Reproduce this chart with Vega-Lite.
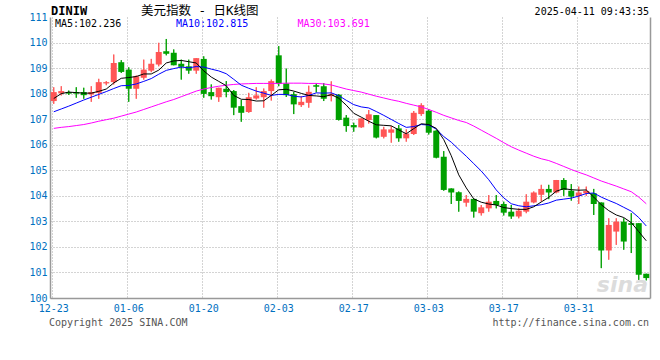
{
  "$schema": "https://vega.github.io/schema/vega-lite/v6.json",
  "width": 600,
  "height": 281,
  "autosize": {"type": "none"},
  "padding": {"left": 50, "top": 17, "right": 10, "bottom": 62},
  "background": "white",
  "config": {"view": {"stroke": null}, "font": "DejaVu Sans Mono"},
  "data": {"values": [
    {"d":"12-23","o":107.71,"h":108.25,"l":107.60,"c":108.06,"ma5":107.81,"ma10":107.29,"ma30":106.64},
    {"d":"12-24","o":108.01,"h":108.29,"l":107.93,"c":108.10,"ma5":108.00,"ma10":107.40,"ma30":106.68},
    {"d":"12-25","o":108.06,"h":108.12,"l":107.95,"c":108.00,"ma5":108.06,"ma10":107.51,"ma30":106.71},
    {"d":"12-26","o":108.06,"h":108.25,"l":107.84,"c":108.00,"ma5":108.04,"ma10":107.63,"ma30":106.75},
    {"d":"12-27","o":108.06,"h":108.23,"l":107.80,"c":107.94,"ma5":108.02,"ma10":107.75,"ma30":106.79},
    {"d":"12-30","o":107.97,"h":108.29,"l":107.68,"c":108.06,"ma5":108.02,"ma10":107.86,"ma30":106.85},
    {"d":"12-31","o":108.03,"h":108.58,"l":107.80,"c":108.45,"ma5":108.09,"ma10":107.97,"ma30":106.92},
    {"d":"01-01","o":108.40,"h":108.49,"l":108.33,"c":108.45,"ma5":108.18,"ma10":108.08,"ma30":106.98},
    {"d":"01-02","o":108.45,"h":109.53,"l":108.36,"c":109.20,"ma5":108.42,"ma10":108.20,"ma30":107.04},
    {"d":"01-03","o":109.23,"h":109.31,"l":108.81,"c":108.85,"ma5":108.60,"ma10":108.31,"ma30":107.12},
    {"d":"01-06","o":108.94,"h":109.03,"l":107.68,"c":108.19,"ma5":108.63,"ma10":108.32,"ma30":107.20},
    {"d":"01-07","o":108.19,"h":108.71,"l":107.80,"c":108.68,"ma5":108.67,"ma10":108.38,"ma30":107.28},
    {"d":"01-08","o":108.62,"h":109.33,"l":108.55,"c":108.94,"ma5":108.77,"ma10":108.48,"ma30":107.38},
    {"d":"01-09","o":108.90,"h":109.36,"l":108.84,"c":109.17,"ma5":108.77,"ma10":108.59,"ma30":107.48},
    {"d":"01-10","o":109.14,"h":109.99,"l":109.07,"c":109.63,"ma5":108.92,"ma10":108.76,"ma30":107.58},
    {"d":"01-13","o":109.66,"h":110.14,"l":109.50,"c":109.56,"ma5":109.20,"ma10":108.91,"ma30":107.68},
    {"d":"01-14","o":109.60,"h":109.73,"l":109.11,"c":109.11,"ma5":109.28,"ma10":108.98,"ma30":107.77},
    {"d":"01-15","o":109.17,"h":109.33,"l":108.55,"c":109.05,"ma5":109.30,"ma10":109.04,"ma30":107.88},
    {"d":"01-16","o":109.07,"h":109.33,"l":108.78,"c":108.90,"ma5":109.25,"ma10":109.01,"ma30":107.99},
    {"d":"01-17","o":108.90,"h":109.39,"l":108.78,"c":109.39,"ma5":109.20,"ma10":109.06,"ma30":108.10},
    {"d":"01-20","o":109.36,"h":109.46,"l":107.84,"c":107.99,"ma5":108.89,"ma10":109.04,"ma30":108.18},
    {"d":"01-21","o":108.06,"h":108.36,"l":107.77,"c":107.90,"ma5":108.65,"ma10":108.96,"ma30":108.24},
    {"d":"01-22","o":107.86,"h":108.23,"l":107.68,"c":108.23,"ma5":108.48,"ma10":108.89,"ma30":108.29},
    {"d":"01-23","o":108.19,"h":108.49,"l":107.86,"c":108.06,"ma5":108.31,"ma10":108.78,"ma30":108.33},
    {"d":"01-24","o":108.10,"h":108.14,"l":107.16,"c":107.45,"ma5":107.93,"ma10":108.56,"ma30":108.36},
    {"d":"01-27","o":107.51,"h":107.75,"l":106.90,"c":107.25,"ma5":107.78,"ma10":108.33,"ma30":108.38},
    {"d":"01-28","o":107.28,"h":108.03,"l":107.25,"c":107.86,"ma5":107.77,"ma10":108.21,"ma30":108.39},
    {"d":"01-29","o":107.81,"h":108.25,"l":107.77,"c":107.93,"ma5":107.71,"ma10":108.10,"ma30":108.40},
    {"d":"01-30","o":107.86,"h":108.20,"l":107.45,"c":108.10,"ma5":107.72,"ma10":108.02,"ma30":108.40},
    {"d":"01-31","o":108.10,"h":108.55,"l":107.73,"c":108.49,"ma5":107.93,"ma10":107.93,"ma30":108.40},
    {"d":"02-03","o":109.50,"h":109.86,"l":108.29,"c":108.38,"ma5":108.15,"ma10":107.97,"ma30":108.40},
    {"d":"02-04","o":108.40,"h":108.98,"l":107.87,"c":107.94,"ma5":108.17,"ma10":107.97,"ma30":108.41},
    {"d":"02-05","o":107.98,"h":108.07,"l":107.20,"c":107.58,"ma5":108.10,"ma10":107.90,"ma30":108.41},
    {"d":"02-06","o":107.55,"h":107.90,"l":107.48,"c":107.68,"ma5":108.01,"ma10":107.87,"ma30":108.41},
    {"d":"02-07","o":107.64,"h":108.31,"l":107.45,"c":108.07,"ma5":107.93,"ma10":107.93,"ma30":108.40},
    {"d":"02-10","o":108.33,"h":108.40,"l":108.05,"c":108.27,"ma5":107.91,"ma10":108.03,"ma30":108.40},
    {"d":"02-11","o":108.29,"h":108.41,"l":107.71,"c":107.80,"ma5":107.88,"ma10":108.02,"ma30":108.38},
    {"d":"02-12","o":107.90,"h":108.48,"l":107.70,"c":107.98,"ma5":107.96,"ma10":108.03,"ma30":108.34},
    {"d":"02-13","o":107.96,"h":107.98,"l":106.95,"c":106.97,"ma5":107.82,"ma10":107.92,"ma30":108.26},
    {"d":"02-14","o":107.06,"h":107.16,"l":106.51,"c":106.73,"ma5":107.55,"ma10":107.74,"ma30":108.18},
    {"d":"02-17","o":106.77,"h":106.86,"l":106.51,"c":106.68,"ma5":107.23,"ma10":107.57,"ma30":108.12},
    {"d":"02-18","o":106.68,"h":107.03,"l":106.66,"c":107.03,"ma5":107.08,"ma10":107.48,"ma30":108.06},
    {"d":"02-19","o":106.97,"h":107.36,"l":106.83,"c":107.19,"ma5":106.92,"ma10":107.44,"ma30":107.98},
    {"d":"02-20","o":107.16,"h":107.16,"l":106.25,"c":106.28,"ma5":106.78,"ma10":107.30,"ma30":107.90},
    {"d":"02-21","o":106.31,"h":106.70,"l":106.25,"c":106.60,"ma5":106.76,"ma10":107.15,"ma30":107.83},
    {"d":"02-24","o":106.47,"h":106.73,"l":106.08,"c":106.60,"ma5":106.74,"ma10":106.99,"ma30":107.76},
    {"d":"02-25","o":106.64,"h":106.77,"l":106.12,"c":106.25,"ma5":106.58,"ma10":106.83,"ma30":107.70},
    {"d":"02-26","o":106.25,"h":106.60,"l":106.12,"c":106.44,"ma5":106.43,"ma10":106.68,"ma30":107.62},
    {"d":"02-27","o":106.42,"h":107.32,"l":106.38,"c":107.25,"ma5":106.63,"ma10":106.71,"ma30":107.55},
    {"d":"02-28","o":107.20,"h":107.62,"l":107.13,"c":107.55,"ma5":106.82,"ma10":106.79,"ma30":107.48},
    {"d":"03-03","o":107.33,"h":107.39,"l":106.40,"c":106.47,"ma5":106.79,"ma10":106.77,"ma30":107.38},
    {"d":"03-04","o":106.55,"h":106.57,"l":105.47,"c":105.49,"ma5":106.64,"ma10":106.61,"ma30":107.27},
    {"d":"03-05","o":105.53,"h":105.75,"l":104.20,"c":104.23,"ma5":106.20,"ma10":106.32,"ma30":107.15},
    {"d":"03-06","o":104.29,"h":104.29,"l":103.68,"c":104.13,"ma5":105.57,"ma10":106.10,"ma30":107.05},
    {"d":"03-07","o":104.14,"h":104.17,"l":103.38,"c":103.80,"ma5":104.82,"ma10":105.82,"ma30":106.95},
    {"d":"03-10","o":103.73,"h":104.03,"l":103.58,"c":103.88,"ma5":104.31,"ma10":105.55,"ma30":106.87},
    {"d":"03-11","o":103.88,"h":103.88,"l":103.15,"c":103.38,"ma5":103.88,"ma10":105.26,"ma30":106.73},
    {"d":"03-12","o":103.32,"h":103.64,"l":103.23,"c":103.55,"ma5":103.75,"ma10":104.97,"ma30":106.57},
    {"d":"03-13","o":103.51,"h":104.03,"l":103.38,"c":103.77,"ma5":103.68,"ma10":104.63,"ma30":106.41},
    {"d":"03-14","o":103.80,"h":104.03,"l":103.51,"c":103.64,"ma5":103.64,"ma10":104.23,"ma30":106.25},
    {"d":"03-17","o":103.68,"h":103.77,"l":103.23,"c":103.34,"ma5":103.54,"ma10":103.92,"ma30":106.08},
    {"d":"03-18","o":103.38,"h":103.64,"l":103.10,"c":103.19,"ma5":103.50,"ma10":103.69,"ma30":105.92},
    {"d":"03-19","o":103.19,"h":103.51,"l":103.12,"c":103.42,"ma5":103.47,"ma10":103.61,"ma30":105.79},
    {"d":"03-20","o":103.38,"h":104.06,"l":103.32,"c":103.77,"ma5":103.47,"ma10":103.57,"ma30":105.67},
    {"d":"03-21","o":103.74,"h":104.17,"l":103.71,"c":104.13,"ma5":103.57,"ma10":103.61,"ma30":105.55},
    {"d":"03-24","o":104.04,"h":104.43,"l":103.78,"c":104.27,"ma5":103.76,"ma10":103.65,"ma30":105.45},
    {"d":"03-25","o":104.27,"h":104.43,"l":103.87,"c":104.13,"ma5":103.94,"ma10":103.72,"ma30":105.38},
    {"d":"03-26","o":104.13,"h":104.62,"l":104.10,"c":104.62,"ma5":104.18,"ma10":103.83,"ma30":105.27},
    {"d":"03-27","o":104.62,"h":104.69,"l":104.00,"c":104.23,"ma5":104.28,"ma10":103.87,"ma30":105.15},
    {"d":"03-28","o":104.20,"h":104.46,"l":103.81,"c":103.97,"ma5":104.24,"ma10":103.91,"ma30":105.03},
    {"d":"03-31","o":103.99,"h":104.36,"l":103.68,"c":104.13,"ma5":104.22,"ma10":103.99,"ma30":104.92},
    {"d":"04-01","o":104.10,"h":104.36,"l":104.00,"c":104.19,"ma5":104.23,"ma10":104.09,"ma30":104.82},
    {"d":"04-02","o":104.10,"h":104.27,"l":103.25,"c":103.68,"ma5":103.95,"ma10":104.11,"ma30":104.70},
    {"d":"04-03","o":103.74,"h":103.74,"l":101.17,"c":101.86,"ma5":103.65,"ma10":103.95,"ma30":104.58},
    {"d":"04-04","o":101.86,"h":103.12,"l":101.50,"c":102.86,"ma5":103.42,"ma10":103.82,"ma30":104.48},
    {"d":"04-07","o":102.60,"h":103.12,"l":102.08,"c":102.99,"ma5":103.25,"ma10":103.70,"ma30":104.38},
    {"d":"04-08","o":102.99,"h":103.12,"l":101.89,"c":102.21,"ma5":103.15,"ma10":103.55,"ma30":104.27},
    {"d":"04-09","o":102.93,"h":103.32,"l":101.76,"c":102.86,"ma5":102.95,"ma10":103.40,"ma30":104.16},
    {"d":"04-10","o":102.93,"h":102.93,"l":100.71,"c":100.91,"ma5":102.60,"ma10":103.15,"ma30":103.95},
    {"d":"04-11","o":100.95,"h":100.95,"l":100.69,"c":100.78,"ma5":102.24,"ma10":102.82,"ma30":103.69}
  ]},
  "resolve": {"axis": {"y": "independent"}},
  "layer": [
    {
      "mark": {"type": "rule", "strokeWidth": 1},
      "encoding": {
        "x": {"field": "d", "type": "ordinal", "sort": null,
          "scale": {"type": "band", "paddingInner": 0, "paddingOuter": 0},
          "axis": {"values": ["12-23","01-06","01-20","02-03","02-17","03-03","03-17","03-31"],
            "title": null, "labelAngle": 0, "ticks": false, "bandPosition": 0.35,
            "domainColor": "#999999", "domainWidth": 1.5,
            "labelColor": "#0070c0", "labelFont": "DejaVu Sans Mono", "labelFontSize": 10, "labelPadding": 5,
            "grid": true, "gridColor": "#a8a8a8", "gridDash": [1, 2], "gridWidth": 1}},
        "y": {"field": "l", "type": "quantitative",
          "scale": {"domain": [100, 111], "nice": false, "zero": false},
          "axis": {"orient": "left", "values": [100,101,102,103,104,105,106,107,108,109,110,111],
            "title": null, "ticks": false, "domainColor": "#999999", "domainWidth": 1.5,
            "labelColor": "#0070c0", "labelFont": "DejaVu Sans Mono", "labelFontSize": 10, "labelPadding": 3,
            "grid": true, "gridColor": "#a8a8a8", "gridDash": [1, 2], "gridWidth": 1,
            "gridOpacity": {"condition": {"test": "datum.value >= 111", "value": 0}, "value": 1}}},
        "y2": {"field": "h"},
        "color": {"condition": {"test": "datum.c >= datum.o", "value": "#ff5555"}, "value": "#00a000"}
      }
    },
    {
      "data": {"values": [{"t": "sina"}]},
      "mark": {"type": "text", "align": "right", "baseline": "bottom", "fontSize": 22, "fontWeight": "bold", "fontStyle": "italic", "font": "DejaVu Sans", "color": "#dcdcdc", "dx": -2, "dy": -1},
      "encoding": {"x": {"datum": "04-11", "bandPosition": 1}, "y": {"datum": 100, "axis": null}, "text": {"field": "t"}}
    },
    {
      "mark": {"type": "rule", "strokeWidth": 1},
      "encoding": {
        "x": {"field": "d", "type": "ordinal", "sort": null},
        "y": {"field": "l", "type": "quantitative", "axis": null},
        "y2": {"field": "h"},
        "color": {"condition": {"test": "datum.c >= datum.o", "value": "#ff5555"}, "value": "#00a000"}
      }
    },
    {
      "mark": {"type": "bar", "width": {"band": 0.8}},
      "encoding": {
        "x": {"field": "d", "type": "ordinal", "sort": null},
        "y": {"field": "o", "type": "quantitative", "axis": null},
        "y2": {"field": "c"},
        "color": {"condition": {"test": "datum.c >= datum.o", "value": "#ff5555"}, "value": "#00a000"}
      }
    },
    {
      "mark": {"type": "line", "color": "#ff00ff", "strokeWidth": 1},
      "encoding": {
        "x": {"field": "d", "type": "ordinal", "sort": null},
        "y": {"field": "ma30", "type": "quantitative",
          "axis": {"orient": "right", "labels": false, "ticks": false, "grid": false, "title": null, "domainColor": "#999999", "domainWidth": 1.5}}
      }
    },
    {
      "mark": {"type": "line", "color": "#0000ff", "strokeWidth": 1},
      "encoding": {
        "x": {"field": "d", "type": "ordinal", "sort": null},
        "y": {"field": "ma10", "type": "quantitative", "axis": null}
      }
    },
    {
      "mark": {"type": "line", "color": "#000000", "strokeWidth": 1},
      "encoding": {
        "x": {"field": "d", "type": "ordinal", "sort": null},
        "y": {"field": "ma5", "type": "quantitative", "axis": null}
      }
    },
    {
      "data": {"values": [{"t": "DINIW"}]},
      "mark": {"type": "text", "align": "left", "baseline": "alphabetic", "fontSize": 12, "fontWeight": "bold", "font": "DejaVu Sans Mono", "color": "#000000", "dx": 1, "dy": -2},
      "encoding": {"x": {"datum": "12-23", "bandPosition": 0}, "y": {"datum": 111, "axis": null}, "text": {"field": "t"}}
    },
    {
      "data": {"values": [{"t": "美元指数 - 日K线图"}]},
      "mark": {"type": "text", "align": "left", "baseline": "alphabetic", "fontSize": 12.5, "font": "DejaVu Sans Mono, Noto Sans CJK SC", "color": "#000000", "dx": 1, "dy": -2},
      "encoding": {"x": {"datum": "01-08", "bandPosition": 0}, "y": {"datum": 111, "axis": null}, "text": {"field": "t"}}
    },
    {
      "data": {"values": [{"t": "2025-04-11 09:43:35"}]},
      "mark": {"type": "text", "align": "right", "baseline": "alphabetic", "fontSize": 10, "font": "DejaVu Sans Mono", "color": "#000000", "dx": -1, "dy": -2},
      "encoding": {"x": {"datum": "04-11", "bandPosition": 1}, "y": {"datum": 111, "axis": null}, "text": {"field": "t"}}
    },
    {
      "data": {"values": [{"t": "MA5:102.236"}]},
      "mark": {"type": "text", "align": "left", "baseline": "middle", "fontSize": 10, "font": "DejaVu Sans Mono", "color": "#000000", "dx": 5},
      "encoding": {"x": {"datum": "12-23", "bandPosition": 0}, "y": {"datum": 110.73, "axis": null}, "text": {"field": "t"}}
    },
    {
      "data": {"values": [{"t": "MA10:102.815"}]},
      "mark": {"type": "text", "align": "left", "baseline": "middle", "fontSize": 10, "font": "DejaVu Sans Mono", "color": "#0000ff", "dx": 6},
      "encoding": {"x": {"datum": "01-14", "bandPosition": 0}, "y": {"datum": 110.73, "axis": null}, "text": {"field": "t"}}
    },
    {
      "data": {"values": [{"t": "MA30:103.691"}]},
      "mark": {"type": "text", "align": "left", "baseline": "middle", "fontSize": 10, "font": "DejaVu Sans Mono", "color": "#ff00ff", "dx": 0},
      "encoding": {"x": {"datum": "02-06", "bandPosition": 0}, "y": {"datum": 110.73, "axis": null}, "text": {"field": "t"}}
    },
    {
      "data": {"values": [{"t": "Copyright 2025 SINA.COM"}]},
      "mark": {"type": "text", "align": "left", "baseline": "middle", "fontSize": 10, "font": "DejaVu Sans Mono", "color": "#555555", "dx": -1},
      "encoding": {"x": {"datum": "12-23", "bandPosition": 0}, "y": {"datum": 99.02, "axis": null}, "text": {"field": "t"}}
    },
    {
      "data": {"values": [{"t": "http://finance.sina.com.cn"}]},
      "mark": {"type": "text", "align": "right", "baseline": "middle", "fontSize": 10, "font": "DejaVu Sans Mono", "color": "#555555", "dx": -1},
      "encoding": {"x": {"datum": "04-11", "bandPosition": 1}, "y": {"datum": 99.02, "axis": null}, "text": {"field": "t"}}
    }
  ]
}
